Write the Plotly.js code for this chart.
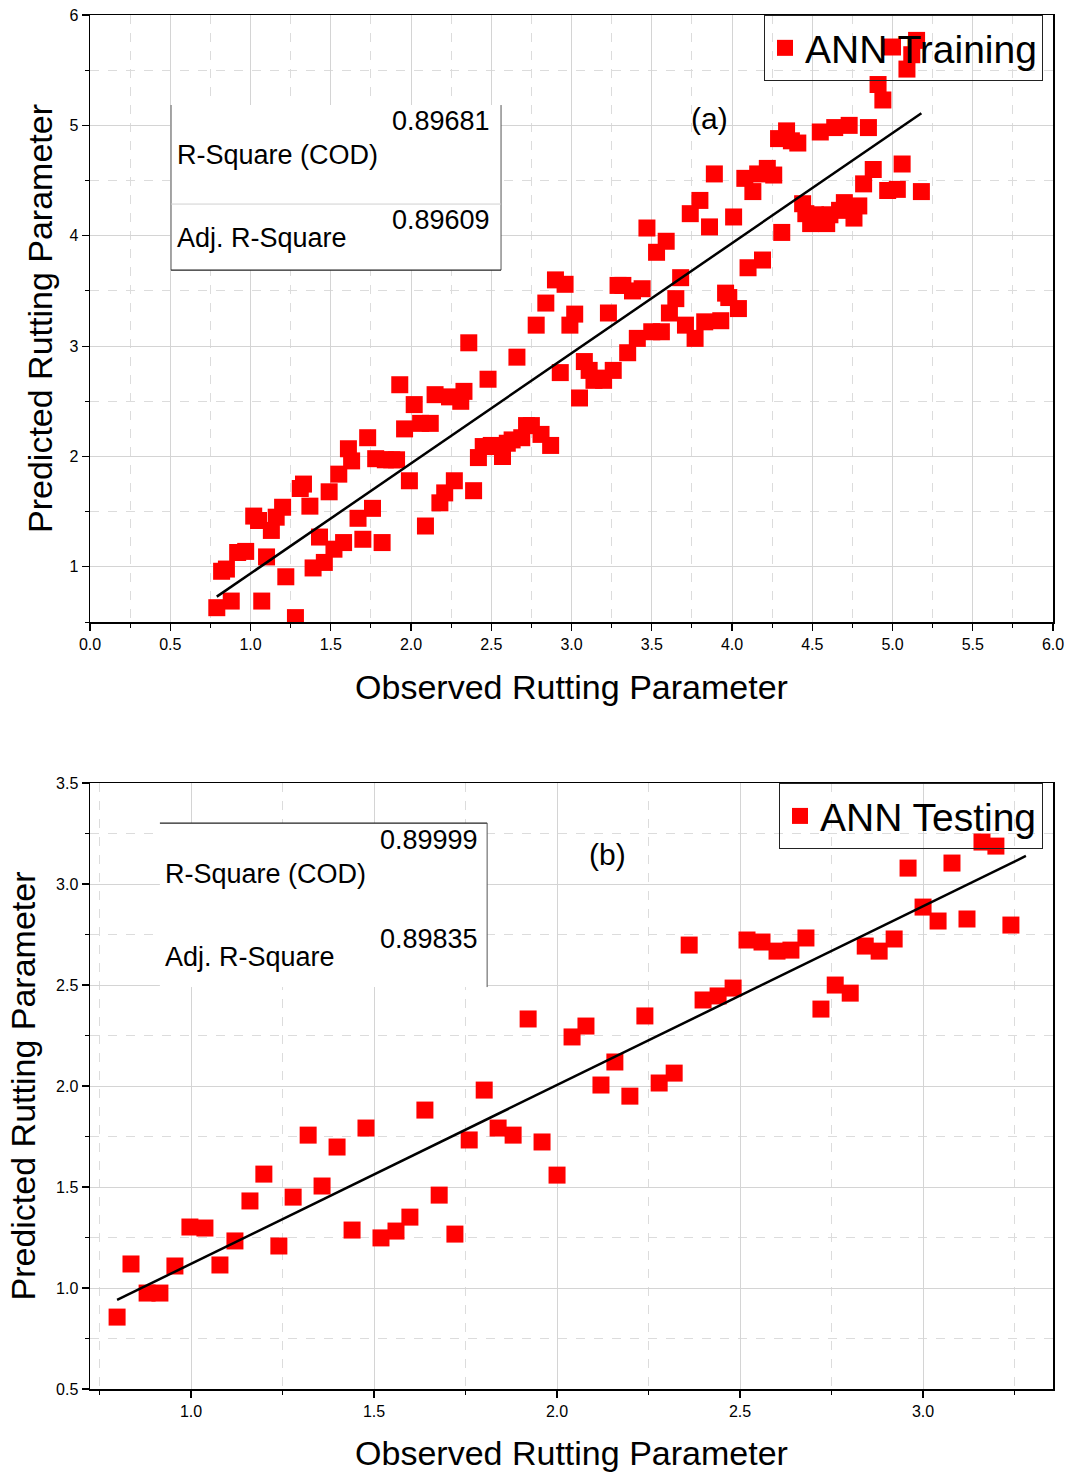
<!DOCTYPE html>
<html>
<head>
<meta charset="utf-8">
<script src="https://cdn.plot.ly/plotly-3.0.1.min.js"></script>
<style>
  html, body { margin: 0; padding: 0; background: #fff; }
  #chart { width: 1071px; height: 1472px; }
</style>
</head>
<body>
<div id="chart"></div>
<script>
// ANN training set: observed vs predicted rutting parameter
const trainObserved = [0.79,0.88,1.07,1.28,0.82,0.85,0.92,0.97,1.10,1.02,1.05,1.13,1.16,1.20,1.22,1.31,1.33,1.37,1.39,1.43,1.46,1.49,1.52,1.55,1.58,1.61,1.63,1.67,1.70,1.73,1.76,1.78,1.82,1.84,1.88,1.91,1.93,1.96,1.99,2.02,2.06,2.09,2.12,2.15,2.18,2.21,2.24,2.27,2.31,2.33,2.36,2.39,2.42,2.45,2.48,2.50,2.54,2.57,2.60,2.63,2.66,2.69,2.72,2.75,2.78,2.81,2.84,2.87,2.90,2.93,2.96,2.99,3.02,3.05,3.08,3.11,3.14,3.17,3.20,3.23,3.26,3.29,3.32,3.35,3.38,3.41,3.44,3.47,3.50,3.53,3.56,3.59,3.61,3.65,3.68,3.71,3.74,3.77,3.80,3.83,3.86,3.89,3.93,3.96,3.98,4.01,4.04,4.08,4.10,4.13,4.16,4.19,4.22,4.26,4.29,4.31,4.34,4.37,4.41,4.44,4.46,4.49,4.52,4.55,4.59,4.61,4.64,4.67,4.70,4.73,4.76,4.79,4.82,4.85,4.88,4.91,4.94,4.97,5.00,5.03,5.06,5.09,5.12,5.15,5.18];
const trainPredicted = [0.63,0.69,0.69,0.54,0.96,0.98,1.13,1.14,1.09,1.46,1.42,1.33,1.45,1.54,0.91,1.71,1.75,1.55,0.99,1.27,1.04,1.68,1.16,1.84,1.22,2.07,1.96,1.44,1.25,2.17,1.53,1.98,1.22,1.97,1.97,1.97,2.65,2.25,1.78,2.47,2.30,1.37,2.30,2.56,1.58,1.67,2.54,1.78,2.50,2.59,3.03,1.69,1.99,2.09,2.70,2.10,2.09,2.00,2.12,2.15,2.90,2.17,2.28,2.28,3.19,2.20,3.39,2.10,3.60,2.76,3.56,3.19,3.29,2.53,2.86,2.78,2.69,2.71,2.69,3.30,2.78,3.55,3.55,2.94,3.50,3.07,3.52,4.07,3.13,3.85,3.13,3.95,3.30,3.43,3.62,3.19,4.20,3.07,4.32,3.22,4.08,4.56,3.23,3.48,3.44,4.17,3.34,4.52,3.71,4.40,4.56,3.78,4.61,4.55,4.88,4.03,4.95,4.86,4.84,4.29,4.20,4.11,4.19,4.94,4.11,4.19,4.98,4.23,4.30,5.00,4.16,4.27,4.47,4.98,4.60,5.37,5.23,4.41,5.71,4.42,4.65,5.51,5.64,5.77,4.40];
const trainFitX = [0.79, 5.18];
const trainFitY = [0.73, 5.11];

// ANN testing set
const testObserved = [0.798,0.836,0.880,0.915,0.956,0.997,1.038,1.079,1.120,1.161,1.199,1.240,1.279,1.320,1.358,1.399,1.440,1.478,1.519,1.560,1.598,1.639,1.678,1.721,1.760,1.801,1.839,1.880,1.921,1.959,2.000,2.041,2.079,2.120,2.158,2.199,2.240,2.279,2.320,2.361,2.399,2.440,2.481,2.519,2.560,2.601,2.639,2.680,2.721,2.760,2.801,2.842,2.880,2.921,2.959,3.000,3.041,3.079,3.120,3.161,3.199,3.240];
const testPredicted = [0.856,1.119,0.975,0.975,1.109,1.302,1.297,1.114,1.233,1.431,1.564,1.208,1.450,1.757,1.505,1.698,1.287,1.792,1.248,1.282,1.351,1.881,1.460,1.267,1.733,1.980,1.792,1.757,2.332,1.723,1.559,2.243,2.297,2.005,2.119,1.950,2.347,2.015,2.064,2.698,2.426,2.446,2.485,2.723,2.713,2.668,2.673,2.733,2.381,2.500,2.460,2.693,2.668,2.728,3.079,2.886,2.817,3.104,2.827,3.208,3.188,2.797];
const testFitX = [0.798, 3.281];
const testFitY = [0.941, 3.139];

// Fit statistics
const statLabels = ['R-Square (COD)', 'Adj. R-Square'];
const trainStats = ['0.89681', '0.89609'];
const testStats = ['0.89999', '0.89835'];
const panelLabels = ['(a)', '(b)'];

const FONT = 'Liberation Sans, Arial, sans-serif';
const RED = '#ff0000';

const traces = [
  { x: trainObserved, y: trainPredicted, type: 'scatter', mode: 'markers', name: 'ANN Training',
    xaxis: 'x', yaxis: 'y', legend: 'legend',
    marker: { symbol: 'square', size: 17, color: RED, line: { width: 0 } } },
  { x: trainFitX, y: trainFitY, type: 'scatter', mode: 'lines', showlegend: false,
    xaxis: 'x', yaxis: 'y', line: { color: '#000', width: 2.5 }, hoverinfo: 'skip' },
  { x: testObserved, y: testPredicted, type: 'scatter', mode: 'markers', name: 'ANN Testing',
    xaxis: 'x2', yaxis: 'y2', legend: 'legend2',
    marker: { symbol: 'square', size: 17, color: RED, line: { width: 0 } } },
  { x: testFitX, y: testFitY, type: 'scatter', mode: 'lines', showlegend: false,
    xaxis: 'x2', yaxis: 'y2', line: { color: '#000', width: 2.5 }, hoverinfo: 'skip' }
];

function axis(extra) {
  return Object.assign({
    showline: true, linecolor: '#000', linewidth: 1.5, mirror: true,
    ticks: 'outside', ticklen: 7, tickwidth: 1.2, tickcolor: '#000',
    showgrid: true, gridcolor: '#d4d4d4', gridwidth: 1,
    zeroline: false,
    tickfont: { family: FONT, size: 16, color: '#000' },
    minor: { ticks: 'outside', ticklen: 4, tickwidth: 1, tickcolor: '#000',
             showgrid: true, gridcolor: '#dcdcdc', griddash: 'dash', gridwidth: 1 }
  }, extra);
}

const titleFont = { family: FONT, size: 34, color: '#000' };

const legendStyle = {
  bgcolor: 'rgba(255,255,255,0)', bordercolor: '#222', borderwidth: 1,
  font: { family: FONT, size: 39, color: '#000' }
};

const layout = {
  width: 1071, height: 1472,
  margin: { l: 90, r: 18, t: 15, b: 83 },
  paper_bgcolor: '#fff', plot_bgcolor: '#fff',
  font: { family: FONT, color: '#000' },
  xaxis: axis({ anchor: 'y', domain: [0, 1], range: [0, 6], tick0: 0, dtick: 0.5, tickformat: '.1f',
    minor: Object.assign(axis({}).minor, { dtick: 0.25 }),
    title: { text: 'Observed Rutting Parameter', font: titleFont, standoff: 23 } }),
  yaxis: axis({ anchor: 'x', domain: [0.5582, 1], range: [0.5, 6], tick0: 0, dtick: 1,
    minor: Object.assign(axis({}).minor, { dtick: 0.5 }),
    title: { text: 'Predicted Rutting Parameter', font: titleFont, standoff: 6 } }),
  xaxis2: axis({ anchor: 'y2', domain: [0, 1], range: [0.724, 3.355], tick0: 0, dtick: 0.5, tickformat: '.1f',
    minor: Object.assign(axis({}).minor, { dtick: 0.25 }),
    title: { text: 'Observed Rutting Parameter', font: titleFont, standoff: 23 } }),
  yaxis2: axis({ anchor: 'x2', domain: [0, 0.441], range: [0.5, 3.5], tick0: 0, dtick: 0.5, tickformat: '.1f',
    minor: Object.assign(axis({}).minor, { dtick: 0.25 }),
    title: { text: 'Predicted Rutting Parameter', font: titleFont, standoff: 10 } }),
  legend: Object.assign({ x: 0.9896, xanchor: 'right', y: 1.0, yanchor: 'top' }, legendStyle),
  legend2: Object.assign({ x: 0.9896, xanchor: 'right', y: 0.441, yanchor: 'top' }, legendStyle),
  shapes: [
    // statistics table, training panel
    { type: 'rect', xref: 'x', yref: 'y', x0: 0.505, x1: 2.561, y0: 3.688, y1: 5.184,
      fillcolor: '#fff', line: { width: 0 }, layer: 'above' },
    { type: 'line', xref: 'x', yref: 'y', x0: 0.505, x1: 0.505, y0: 3.688, y1: 5.184, line: { color: '#777', width: 1.2 }, layer: 'above' },
    { type: 'line', xref: 'x', yref: 'y', x0: 2.561, x1: 2.561, y0: 3.688, y1: 5.184, line: { color: '#555', width: 1 }, layer: 'above' },
    { type: 'line', xref: 'x', yref: 'y', x0: 0.505, x1: 2.561, y0: 3.688, y1: 3.688, line: { color: '#222', width: 1.2 }, layer: 'above' },
    { type: 'line', xref: 'x', yref: 'y', x0: 0.505, x1: 2.561, y0: 4.287, y1: 4.287, line: { color: '#d0d0d0', width: 1 }, layer: 'above' },
    // statistics table, testing panel
    { type: 'rect', xref: 'x2', yref: 'y2', x0: 0.915, x1: 1.809, y0: 2.49, y1: 3.302,
      fillcolor: '#fff', line: { width: 0 }, layer: 'above' },
    { type: 'line', xref: 'x2', yref: 'y2', x0: 0.915, x1: 1.809, y0: 3.302, y1: 3.302, line: { color: '#222', width: 1.2 }, layer: 'above' },
    { type: 'line', xref: 'x2', yref: 'y2', x0: 1.809, x1: 1.809, y0: 2.49, y1: 3.302, line: { color: '#555', width: 1 }, layer: 'above' }
  ],
  annotations: [
    { xref: 'x', yref: 'y', x: 2.505, y: 5.039, text: trainStats[0], xanchor: 'right', showarrow: false, font: { family: FONT, size: 27 } },
    { xref: 'x', yref: 'y', x: 0.53, y: 4.731, text: statLabels[0], xanchor: 'left', showarrow: false, font: { family: FONT, size: 27 } },
    { xref: 'x', yref: 'y', x: 2.505, y: 4.141, text: trainStats[1], xanchor: 'right', showarrow: false, font: { family: FONT, size: 27 } },
    { xref: 'x', yref: 'y', x: 0.53, y: 3.978, text: statLabels[1], xanchor: 'left', showarrow: false, font: { family: FONT, size: 27 } },
    { xref: 'x', yref: 'y', x: 3.857, y: 5.066, text: panelLabels[0], showarrow: false, font: { family: FONT, size: 30 } },
    { xref: 'x2', yref: 'y2', x: 1.79, y: 3.218, text: testStats[0], xanchor: 'right', showarrow: false, font: { family: FONT, size: 27 } },
    { xref: 'x2', yref: 'y2', x: 0.923, y: 3.05, text: statLabels[0], xanchor: 'left', showarrow: false, font: { family: FONT, size: 27 } },
    { xref: 'x2', yref: 'y2', x: 1.79, y: 2.728, text: testStats[1], xanchor: 'right', showarrow: false, font: { family: FONT, size: 27 } },
    { xref: 'x2', yref: 'y2', x: 0.923, y: 2.639, text: statLabels[1], xanchor: 'left', showarrow: false, font: { family: FONT, size: 27 } },
    { xref: 'x2', yref: 'y2', x: 2.137, y: 3.144, text: panelLabels[1], showarrow: false, font: { family: FONT, size: 30 } }
  ]
};

Plotly.newPlot('chart', traces, layout, { displayModeBar: false, staticPlot: true });
</script>
</body>
</html>
